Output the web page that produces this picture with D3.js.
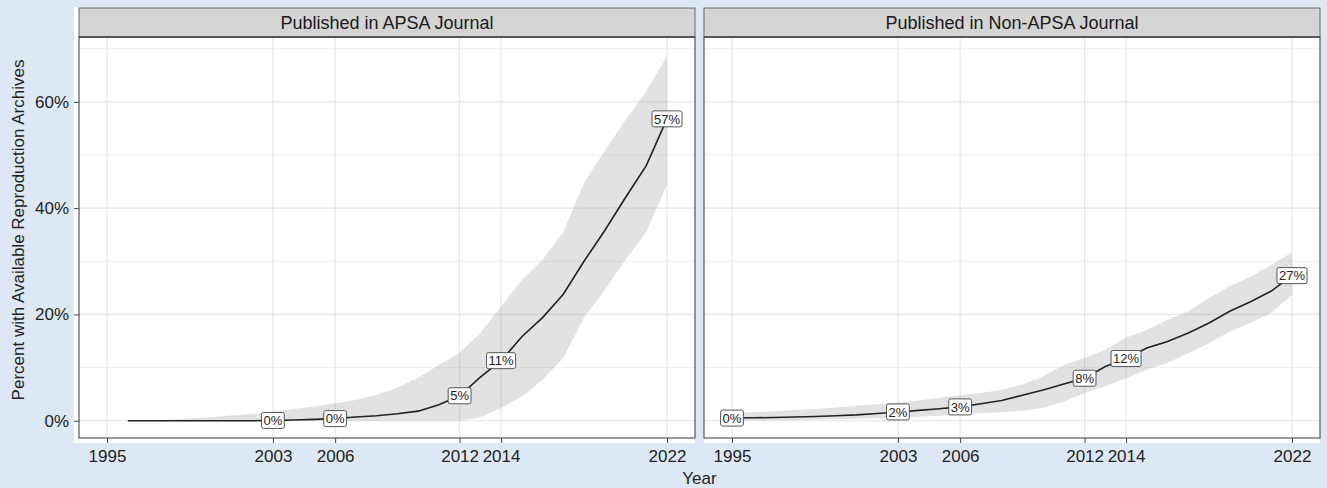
<!DOCTYPE html>
<html>
<head>
<meta charset="utf-8">
<script src="https://cdn.jsdelivr.net/npm/d3@7/dist/d3.min.js"></script>
<style>
  body { margin: 0; background: #dee8f5; }
  svg { display: block; font-family: "Liberation Sans", Arial, sans-serif; }
</style>
</head>
<body>
<div id="chart"></div>
<script>
// facet titles
const panels = ['Published in APSA Journal', 'Published in Non-APSA Journal']

// APSA journals (line starts 1996)
const apsaYears = [1996, 1997, 1998, 1999, 2000, 2001, 2002, 2003, 2004, 2005, 2006, 2007, 2008, 2009,
  2010, 2011, 2012, 2013, 2014, 2015, 2016, 2017, 2018, 2019, 2020, 2021, 2022]
const apsaFit = [0, 0, 0, 0, 0, 0, 0, 0.05, 0.15, 0.25, 0.4, 0.7, 0.95, 1.3,
  1.8, 3.0, 4.7, 8.2, 11.3, 15.8, 19.4, 23.8, 30, 35.8, 42, 48, 56.8]
const apsaLow = [0, 0, 0, 0, 0, 0, 0, 0, 0, 0, 0, 0, 0, 0,
  0, 0, 0, 0.6, 2.4, 4.5, 7.7, 11.8, 19.4, 24.6, 30.3, 35.5, 44.4]
const apsaHigh = [0, 0.05, 0.2, 0.4, 0.7, 1.0, 1.3, 1.6, 2.2, 2.7, 3.3, 3.9, 4.9, 6.2,
  8.1, 10.5, 12.8, 16.5, 21.5, 26.5, 30.3, 35.5, 44.8, 50.8, 56.6, 62, 68.6]
const apsaLabelYears = [2003, 2006, 2012, 2014, 2022]
const apsaLabels = ['0%', '0%', '5%', '11%', '57%']

// non-APSA journals
const nonYears = [1995, 1996, 1997, 1998, 1999, 2000, 2001, 2002, 2003, 2004, 2005, 2006, 2007, 2008,
  2009, 2010, 2011, 2012, 2013, 2014, 2015, 2016, 2017, 2018, 2019, 2020, 2021, 2022]
const nonFit = [0.5, 0.55, 0.6, 0.7, 0.8, 0.95, 1.1, 1.35, 1.65, 1.95, 2.25, 2.6, 3.2, 3.8,
  4.8, 5.8, 6.9, 8.0, 10.2, 11.7, 13.7, 14.9, 16.5, 18.4, 20.6, 22.4, 24.4, 27.3]
const nonLow = [0, 0.05, 0.1, 0.15, 0.2, 0.3, 0.35, 0.45, 0.55, 0.75, 0.95, 1.2, 1.4, 1.6,
  1.9, 2.4, 3.6, 5.2, 6.5, 8.0, 9.6, 10.9, 12.7, 14.6, 16.8, 18.4, 20.3, 23.7]
const nonHigh = [1.5, 1.6, 1.8, 2.0, 2.2, 2.5, 2.8, 3.1, 3.4, 3.8, 4.3, 4.8, 5.2, 5.8,
  6.8, 8.3, 10.5, 11.8, 13.4, 15.6, 17.1, 19, 20.6, 23.1, 25.3, 27.1, 29.3, 31.7]
const nonLabelYears = [1995, 2003, 2006, 2012, 2014, 2022]
const nonLabels = ['0%', '2%', '3%', '8%', '12%', '27%']

const xTicks = [1995, 2003, 2006, 2012, 2014, 2022]
const yTicks = [0, 20, 40, 60]
const yMinor = [10, 30, 50, 70]

const width = 1327
const height = 488

const svg = d3
  .select('#chart')
  .append('svg')
  .attr('width', width)
  .attr('height', height)

svg.append('rect').attr('width', width).attr('height', height).attr('fill', '#dee8f5')

const plotTop = 37
const plotBottom = 438
const stripTop = 8
const y = d3.scaleLinear().domain([-3.25, 72.2]).range([plotBottom, plotTop])

const drawPanel = (left, right, title, yrs, fit, low, high, labYears, labs, withYAxis) => {
  const x = d3.scaleLinear().domain([1993.65, 2023.35]).range([left, right])
  const g = svg.append('g')

  // white backing (includes tick area)
  g.append('rect')
    .attr('x', withYAxis ? left - 5 : left)
    .attr('y', stripTop - 1)
    .attr('width', right - left + (withYAxis ? 5 : 0))
    .attr('height', plotBottom + 5 - stripTop + 1)
    .attr('fill', '#fff')

  // grid
  g.selectAll('.ymin').data(yMinor).enter().append('line')
    .attr('x1', left).attr('x2', right)
    .attr('y1', (d) => y(d)).attr('y2', (d) => y(d))
    .attr('stroke', '#efefef').attr('stroke-width', 1)
  g.selectAll('.ymaj').data(yTicks).enter().append('line')
    .attr('x1', left).attr('x2', right)
    .attr('y1', (d) => y(d)).attr('y2', (d) => y(d))
    .attr('stroke', '#e6e6e6').attr('stroke-width', 1.2)
  g.selectAll('.xmaj').data(xTicks).enter().append('line')
    .attr('x1', (d) => x(d)).attr('x2', (d) => x(d))
    .attr('y1', plotTop).attr('y2', plotBottom)
    .attr('stroke', '#e6e6e6').attr('stroke-width', 1.2)

  const rows = yrs.map((yr, i) => ({ yr, fit: fit[i], low: low[i], high: high[i] }))

  // ribbon
  const area = d3.area()
    .x((d) => x(d.yr))
    .y0((d) => y(d.low))
    .y1((d) => y(d.high))
  g.append('path').datum(rows)
    .attr('d', area)
    .attr('fill', '#8c8c92')
    .attr('fill-opacity', 0.25)

  // fitted line
  const line = d3.line().x((d) => x(d.yr)).y((d) => y(d.fit))
  g.append('path').datum(rows)
    .attr('d', line)
    .attr('fill', 'none')
    .attr('stroke', '#222')
    .attr('stroke-width', 1.6)

  // labels
  labYears.forEach((yr, i) => {
    const v = fit[yrs.indexOf(yr)]
    const lg = g.append('g').attr('transform', `translate(${x(yr)},${y(v)})`)
    const rect = lg.append('rect')
    const t = lg.append('text')
      .attr('text-anchor', 'middle')
      .attr('dy', '0.36em')
      .attr('font-size', 13)
      .attr('fill', '#222')
      .text(labs[i])
    const w = t.node().getComputedTextLength() + 4
    rect.attr('x', -w / 2).attr('y', -8).attr('width', w).attr('height', 16)
      .attr('rx', 2).attr('fill', '#fff').attr('stroke', '#444').attr('stroke-width', 0.9)
  })

  // panel border
  g.append('rect')
    .attr('x', left).attr('y', plotTop)
    .attr('width', right - left).attr('height', plotBottom - plotTop)
    .attr('fill', 'none').attr('stroke', '#555').attr('stroke-width', 1.2)

  // strip
  g.append('rect')
    .attr('x', left).attr('y', stripTop)
    .attr('width', right - left).attr('height', plotTop - stripTop)
    .attr('fill', '#d4d4d4').attr('stroke', '#666').attr('stroke-width', 1)
  g.append('line')
    .attr('x1', left).attr('x2', right).attr('y1', plotTop).attr('y2', plotTop)
    .attr('stroke', '#444').attr('stroke-width', 1.4)
  g.append('text')
    .attr('x', (left + right) / 2).attr('y', (stripTop + plotTop) / 2)
    .attr('dy', '0.36em').attr('text-anchor', 'middle')
    .attr('font-size', 18).attr('fill', '#1a1a1a')
    .text(title)

  // x axis
  const xAxis = d3.axisBottom(x).tickValues(xTicks).tickFormat(d3.format('d')).tickSize(5).tickPadding(7)
  const ax = g.append('g').attr('transform', `translate(0,${plotBottom})`).call(xAxis)
  ax.select('.domain').remove()
  ax.selectAll('line').attr('stroke', '#444')
  ax.selectAll('text').attr('font-size', 17).attr('fill', '#222')
    .attr('font-family', '"Liberation Sans", Arial, sans-serif')

  if (withYAxis) {
    const yAxis = d3.axisLeft(y).tickValues(yTicks).tickFormat((d) => d + '%').tickSize(5).tickPadding(5)
    const ay = g.append('g').attr('transform', `translate(${left},0)`).call(yAxis)
    ay.select('.domain').remove()
    ay.selectAll('line').attr('stroke', '#444')
    ay.selectAll('text').attr('font-size', 17).attr('fill', '#222')
      .attr('font-family', '"Liberation Sans", Arial, sans-serif')
  }
}

drawPanel(79, 695, panels[0], apsaYears, apsaFit, apsaLow, apsaHigh, apsaLabelYears, apsaLabels, true)
drawPanel(704, 1320, panels[1], nonYears, nonFit, nonLow, nonHigh, nonLabelYears, nonLabels, false)

// axis titles
svg.append('text')
  .attr('transform', 'translate(24,230) rotate(-90)')
  .attr('text-anchor', 'middle')
  .attr('font-size', 17).attr('fill', '#222')
  .text('Percent with Available Reproduction Archives')

svg.append('text')
  .attr('x', 699.5).attr('y', 484)
  .attr('text-anchor', 'middle')
  .attr('font-size', 17).attr('fill', '#222')
  .text('Year')
</script>
</body>
</html>
